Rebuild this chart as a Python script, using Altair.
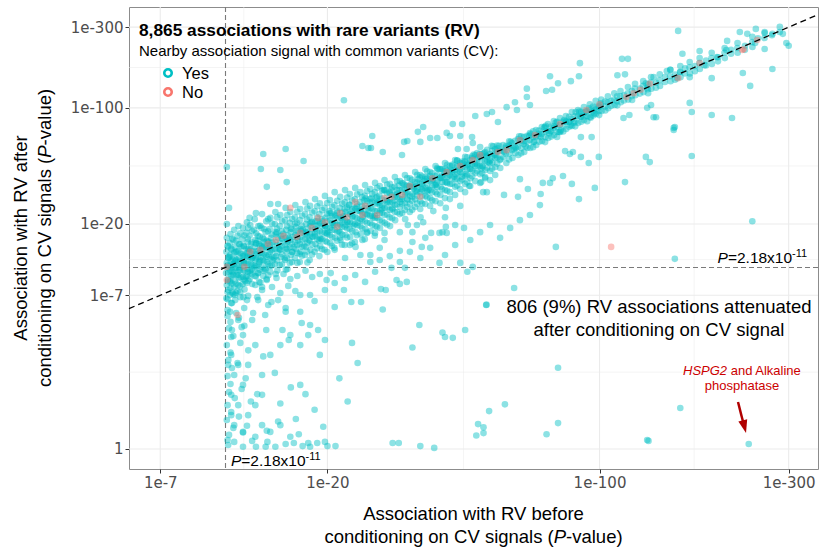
import altair as alt
import pandas as pd

# ---------------- data: -log10(P) before (x) and after (y) conditioning ----------------
band_yes = [
(10.75,16.4),(10.8,14.6),(10.72,13.4),(10.85,12.25),(10.75,11.4),(10.8,10.6),(10.7,9.8),(10.85,8.97),(10.75,8.2),(10.8,7.37),(10.72,6.69),
(11.0,17.3),(10.95,15.2),(11.05,14.0),(10.97,12.8),(11.02,11.7),(10.92,10.9),(11.0,10.15),(11.05,9.39),(10.95,8.59),(11.0,7.83),(10.97,7.03),(11.05,6.2),
(11.26,18.4),(11.2,15.9),(11.3,14.4),(11.25,13.2),(11.32,12.1),(11.2,11.2),(11.28,10.45),(11.22,9.53),(11.3,8.7),(11.26,7.95),(11.2,7.14),
(11.56,19.4),(11.5,16.9),(11.6,15.0),(11.55,13.6),(11.62,12.4),(11.5,11.55),(11.58,10.75),(11.52,10.0),(11.6,9.11),(11.55,8.2),(11.5,7.48),
(11.9,18.9),(11.85,16.1),(11.95,14.6),(11.88,13.0),(11.92,11.9),(11.85,10.9),(11.95,10.15),(11.9,9.25),(11.87,8.33),(11.93,6.8),
(12.2,20.5),(12.15,17.6),(12.25,15.45),(12.18,14.0),(12.22,12.6),(12.15,11.4),(12.25,10.45),(12.2,9.39),(12.17,8.45),
(12.45,19.7),(12.4,16.9),(12.5,15.0),(12.45,13.8),(12.42,12.4),(12.5,11.2),(12.45,10.15),(12.4,8.97),
(12.8,21.4),(12.75,18.4),(12.85,15.9),(12.8,14.4),(12.78,13.0),(12.85,11.9),(12.75,10.6),(12.82,9.39),
(13.1,19.4),(13.05,16.9),(13.15,15.0),(13.1,13.6),(13.08,12.4),(13.12,11.2),(13.05,9.8),(13.15,8.59),
(13.4,23.0),(13.35,18.9),(13.45,16.4),(13.4,14.6),(13.38,13.2),(13.45,11.9),(13.35,10.75),
(13.75,20.8),(13.7,17.8),(13.8,15.7),(13.75,14.2),(13.72,12.8),(13.8,11.55),(13.7,10.3),(13.78,8.97),
(14.1,21.8),(14.05,18.6),(14.15,16.4),(14.1,14.8),(14.08,13.4),(14.12,12.1),(14.05,10.9),
(14.55,23.7),(14.5,20.0),(14.6,17.3),(14.55,15.45),(14.52,14.0),(14.6,12.6),(14.5,11.2),(14.58,9.67),
(15.0,22.7),(14.95,19.4),(15.05,16.9),(15.0,15.2),(14.98,13.8),(15.05,12.4),(14.95,11.05),
(15.5,25.1),(15.45,21.1),(15.55,18.4),(15.5,16.4),(15.48,14.8),(15.55,13.4),(15.45,11.9),(15.52,10.3),
(15.95,23.7),(15.9,20.3),(16.0,17.8),(15.95,15.9),(15.92,14.4),(16.0,12.8),(15.9,11.4),
(16.45,26.1),(16.4,22.0),(16.5,19.2),(16.45,17.1),(16.42,15.45),(16.5,14.0),(16.4,12.25),
(16.95,24.7),(16.9,21.1),(17.0,18.6),(16.95,16.6),(16.92,15.0),(17.0,13.4),(16.9,11.55),
(17.5,27.2),(17.45,23.0),(17.55,20.0),(17.5,17.8),(17.48,16.1),(17.55,14.4),(17.45,12.8),
(18.0,25.8),(17.95,22.0),(18.05,19.4),(18.0,17.3),(17.98,15.7),(18.05,13.8),(17.95,11.9),
(18.55,28.4),(18.5,24.0),(18.6,20.8),(18.55,18.6),(18.52,16.9),(18.6,15.0),(18.5,13.4),
(19.1,26.8),(19.05,23.0),(19.15,20.3),(19.1,18.1),(19.08,16.4),(19.15,14.6),(19.05,12.6),
(19.7,29.7),(19.65,25.1),(19.75,21.8),(19.7,19.4),(19.68,17.6),(19.75,15.7),(19.65,13.8),
(20.3,28.0),(20.25,24.0),(20.35,21.1),(20.3,18.9),(20.28,17.1),(20.35,15.2),
(20.9,31.3),(20.85,26.1),(20.95,22.7),(20.9,20.3),(20.88,18.4),(20.95,16.4),(20.85,14.2),
(21.6,29.3),(21.55,25.1),(21.65,22.0),(21.6,19.7),(21.58,17.8),(21.65,15.9),
(22.25,32.2),(22.2,27.2),(22.3,23.7),(22.25,21.1),(22.22,19.2),(22.3,17.1),(22.2,14.8),
(22.9,30.5),(22.85,26.1),(22.95,23.0),(22.9,20.5),(22.88,18.6),(22.95,16.6),
(23.65,33.2),(23.6,28.4),(23.7,24.7),(23.65,22.0),(23.62,20.0),(23.7,17.8),(23.6,15.45),
(24.4,31.3),(24.35,27.2),(24.45,24.0),(24.4,21.4),(24.38,19.4),(24.45,17.3),
(25.1,34.6),(25.05,29.7),(25.15,25.8),(25.1,23.0),(25.08,20.8),(25.15,18.6),(25.05,16.1),
(25.9,32.7),(25.85,28.4),(25.95,25.1),(25.9,22.4),(25.88,20.3),(25.95,18.1),
(26.65,35.6),(26.6,31.3),(26.7,26.8),(26.65,24.0),(26.62,21.8),(26.7,19.4),(26.6,16.9),
(27.4,34.1),(27.35,29.7),(27.45,26.1),(27.4,23.3),(27.38,21.1),(27.45,18.9),
(28.2,37.0),(28.15,32.2),(28.25,28.0),(28.2,25.1),(28.18,22.7),(28.25,20.3),
(29.1,35.1),(29.05,31.3),(29.15,27.2),(29.1,24.4),(29.08,22.0),(29.15,19.4),
(30.0,38.6),(29.95,33.7),(30.05,29.3),(30.0,26.1),(29.98,23.7),(30.05,21.1),
(30.9,36.5),(30.85,32.2),(30.95,28.4),(30.9,25.4),(30.88,23.0),
(31.85,39.7),(31.8,34.6),(31.9,30.5),(31.85,26.8),(31.82,24.4),(31.9,21.4),
(32.8,38.0),(32.75,33.7),(32.85,29.7),(32.8,26.5),(32.78,23.7),
(33.85,41.4),(33.8,36.0),(33.9,31.8),(33.85,28.4),(33.82,25.4),
(34.9,39.7),(34.85,35.1),(34.95,31.3),(34.9,27.6),(34.88,24.7),(34.95,22.0),
(35.95,43.2),(35.9,37.5),(36.0,33.2),(35.95,29.7),(35.92,26.5),
(37.0,41.4),(36.95,36.5),(37.05,32.2),(37.0,28.8),(36.98,25.8),
(38.2,45.0),(38.15,39.2),(38.25,34.6),(38.2,31.3),(38.18,27.6),
(39.3,43.2),(39.25,38.0),(39.35,33.7),(39.3,30.1),(39.28,26.8),
(40.4,46.9),(40.35,40.8),(40.45,36.0),(40.4,32.2),(40.38,28.8),
(41.6,45.0),(41.55,39.7),(41.65,35.1),(41.6,31.3),(41.58,28.4),
(42.9,48.9),(42.85,42.6),(42.95,37.5),(42.9,33.7),(42.88,30.1),
(44.2,46.9),(44.15,41.4),(44.25,36.5),(44.2,32.7),
(45.5,51.0),(45.45,44.4),(45.55,39.2),(45.5,35.1),(45.48,31.3),
(46.9,48.9),(46.85,43.2),(46.95,38.0),(46.9,34.1),
(48.3,52.4),(48.25,46.2),(48.35,40.8),(48.3,36.5),
(49.7,51.0),(49.65,45.0),(49.75,40.2),(49.7,35.6),
(51.2,54.6),(51.15,48.2),(51.25,42.6),(51.2,38.0),
(52.7,53.1),(52.65,46.9),(52.75,42.0),(52.7,37.0),
(54.3,56.9),(54.25,50.3),(54.35,44.4),(54.3,39.7),
(55.9,55.3),(55.85,48.9),(55.95,43.8),
(57.9,59.3),(57.8,53.1),(58.0,46.9),
(60.0,61.8),(59.9,56.1),(60.1,50.3),
(62.1,65.3),(62.0,58.5),(62.2,52.4),
(64.3,67.1),(64.2,60.9),(64.4,54.6),
(66.6,70.9),(66.5,64.4),(66.7,57.7),
(69.0,73.9),(68.9,67.1),(69.1,60.1),
(71.4,77.0),(71.3,70.0),(71.5,63.5),
(74.0,80.2),(73.9,72.9),(74.1,66.2),
(76.6,83.5),(76.5,75.9),(76.7,69.0),
(79.4,87.1),(79.3,79.1),(79.5,71.9),
(82.2,89.5),(82.1,82.4),(82.3,74.9),
(85.1,94.5),(85.0,86.0),(85.2,78.0),
(88.2,97.1),(88.1,89.5),(88.3,81.3),
(91.3,101),(91.2,93.0),(91.4,84.7),
(94.5,105),(94.4,97.1),(94.6,88.3),
(97.8,110),(97.7,101),(97.9,91.9),
(101,112),(100.8,104),(101.2,95.8),
(105,117),(104.8,108),(105.2,99.6),
(109,122),(108.8,112),(109.2,104),
(113,126),(112.8,117),(113.2,108),
(118,133),(117.8,122),(118.2,112),
(123,139),(122.8,130),(123.2,119),
(129,144),(128.8,135),(129.2,124),
(135,152),(134.8,141),(135.2,130),
(142,158),(141.8,146),(142.2,135),
(151,168),(150.8,154),(151.2,144),
(160,177),(159.8,163),(160.2,152),
(169,187),(168.8,174),(169.2,160),
(179,197),(178.8,184),(179.2,170),
(192,212),(191.8,197),(192.2,182),
(207,226),(206.8,212),(207.2,197),
(223,242),(222.8,226),(223.2,212),
(243,263),(242.8,245),(243.2,229),
(261,277),(260.8,259),
(285,301),(284.8,281),
]

band_yes2 = [
(10.84,14.5),(10.9,12.4),(10.8,11.0),(10.88,9.92),(10.82,8.8),(10.86,7.56),(10.8,6.58),
(11.12,16.2),(11.08,13.85),(11.15,11.97),(11.1,10.64),(11.14,9.58),(11.1,8.37),(11.12,7.3),
(11.4,15.7),(11.36,13.38),(11.42,11.91),(11.38,10.59),(11.44,9.54),(11.4,8.34),(11.38,7.27),
(11.69,17.5),(11.66,14.96),(11.72,13.14),(11.7,11.69),(11.66,10.55),(11.72,9.22),(11.68,8.05),(11.7,6.79),
(11.99,16.97),(11.96,14.48),(12.02,12.72),(11.98,11.47),(12.0,10.2),(11.97,8.91),(12.01,7.66),
(12.29,18.9),(12.26,16.2),(12.31,14.0),(12.28,12.47),(12.3,11.25),(12.27,10.0),(12.31,8.74),
(12.6,18.1),(12.57,15.4),(12.62,13.55),(12.59,12.23),(12.61,11.04),(12.58,9.66),(12.6,8.32),
(12.92,17.5),(12.9,15.15),(12.94,13.49),(12.91,12.18),(12.93,10.83),(12.9,9.34),
(13.24,19.5),(13.21,16.69),(13.26,14.65),(13.23,13.24),(13.25,11.77),(13.22,10.32),(13.26,8.5),
(13.57,18.63),(13.55,16.13),(13.6,14.39),(13.56,12.99),(13.58,11.72),(13.55,10.12),
(13.92,21.4),(13.9,18.04),(13.95,15.62),(13.91,14.12),(13.94,12.76),(13.9,11.17),(13.93,9.49),
(14.26,20.1),(14.23,17.19),(14.28,15.33),(14.25,13.85),(14.27,12.51),(14.24,10.96),
(14.71,21.94),(14.68,18.76),(14.74,16.5),(14.7,14.71),(14.72,13.3),(14.69,11.82),(14.73,10.2),
(15.17,20.78),(15.14,18.02),(15.2,16.08),(15.16,14.52),(15.18,12.94),(15.15,11.18),
(15.65,22.68),(15.62,19.4),(15.68,17.05),(15.64,15.43),(15.66,13.94),(15.63,12.24),(15.67,10.41),
(16.13,21.46),(16.1,18.61),(16.16,16.59),(16.12,15.02),(16.14,13.37),(16.11,11.56),
(16.64,23.75),(16.61,20.31),(16.67,18.12),(16.63,16.41),(16.65,14.82),(16.62,13.2),(16.66,11.4),
(17.15,22.47),(17.12,19.49),(17.18,17.64),(17.14,15.97),(17.16,14.43),(17.13,12.67),
(17.69,24.85),(17.66,21.28),(17.72,18.74),(17.68,16.94),(17.7,15.32),(17.67,13.45),(17.71,11.47),
(18.23,23.54),(18.2,20.42),(18.26,18.49),(18.22,16.73),(18.24,14.92),(18.21,12.9),
(18.8,25.67),(18.77,21.97),(18.83,19.61),(18.79,17.75),(18.81,16.07),(18.78,14.11),
(19.37,24.3),(19.34,21.39),(19.4,19.37),(19.36,17.78),(19.38,16.09),(19.35,13.93),
(19.97,26.87),(19.94,23.01),(20.0,20.83),(19.96,18.86),(19.98,17.31),(19.95,15.44),(19.99,13.36),
(20.58,25.44),(20.55,22.39),(20.61,20.3),(20.57,18.36),(20.59,16.61),(20.56,14.6),
(21.22,27.73),(21.19,24.09),(21.25,21.82),(21.21,19.78),(21.23,17.89),(21.2,15.73),
(21.87,26.63),(21.84,23.47),(21.9,21.25),(21.86,19.24),(21.88,17.18),(21.85,14.87),
(22.53,29.02),(22.5,25.21),(22.56,22.85),(22.52,20.69),(22.54,18.74),(22.51,16.48),
(23.23,27.88),(23.2,24.59),(23.26,22.26),(23.22,20.15),(23.24,18.0),(23.21,15.16),
(23.93,30.36),(23.9,26.4),(23.96,23.93),(23.92,21.69),(23.94,19.64),(23.91,17.02),
(24.66,29.18),(24.63,25.71),(24.69,23.3),(24.65,21.12),(24.67,18.83),
(25.41,31.8),(25.38,27.63),(25.44,25.07),(25.4,22.69),(25.42,20.26),(25.39,17.57),
(26.19,30.54),(26.16,27.3),(26.22,24.75),(26.18,22.44),(26.2,19.75),
(26.98,33.28),(26.95,29.33),(27.01,26.62),(26.97,24.1),(26.99,21.83),(26.96,19.23),
(27.8,31.98),(27.77,28.58),(27.83,25.93),(27.79,23.48),(27.81,20.69),
(28.64,34.8),(28.61,30.71),(28.67,27.84),(28.63,25.23),(28.65,22.86),(28.62,19.84),
(29.51,33.45),(29.48,29.92),(29.54,27.13),(29.5,24.6),(29.52,21.67),
(30.41,36.44),(30.38,32.17),(30.44,29.15),(30.4,26.42),(30.42,23.63),
(31.33,35.5),(31.3,32.2),(31.36,29.23),(31.32,26.48),(31.34,23.34),
(32.27,38.13),(32.24,34.13),(32.3,30.94),(32.26,28.44),(32.28,25.45),
(33.25,37.15),(33.22,33.72),(33.28,30.58),(33.24,27.74),(33.26,24.45),
(34.25,39.89),(34.22,35.7),(34.28,32.38),(34.24,29.77),(34.26,26.64),
(35.28,38.87),(35.25,35.28),(35.31,32.45),(35.27,29.84),(35.29,26.68),
(36.35,41.77),(36.32,37.88),(36.38,34.86),(36.34,32.05),(36.36,29.07),
(37.44,40.67),(37.41,36.94),(37.47,33.98),(37.43,31.25),(37.45,27.95),
(38.56,43.66),(38.53,39.63),(38.59,36.46),(38.55,33.54),(38.57,30.45),
(39.72,43.14),(39.69,39.19),(39.75,36.06),(39.71,32.72),
(40.91,45.69),(40.88,42.04),(40.94,38.69),(40.9,35.59),(40.92,31.86),
(42.14,45.16),(42.11,41.58),(42.17,38.26),(42.13,35.19),
(43.4,48.46),(43.37,44.6),(43.43,41.05),(43.39,37.76),(43.41,34.3),
(44.7,47.9),(44.67,44.11),(44.73,40.59),(44.69,37.34),
(46.04,50.7),(46.01,46.68),(46.07,42.98),(46.03,39.55),(46.05,35.88),
(47.42,50.13),(47.39,46.11),(47.45,42.43),(47.41,39.09),
(48.83,53.76),(48.8,49.51),(48.86,45.59),(48.82,41.95),
(50.29,53.16),(50.26,48.91),(50.32,45.01),(50.28,40.85),
(51.79,56.22),(51.76,51.79),(51.82,47.67),(51.78,43.87),
(53.34,55.57),(53.31,51.17),(53.37,47.09),(53.33,43.34),
(54.93,59.63),(54.9,54.93),(54.96,50.57),(54.92,46.54),
(56.9,60.14),(56.85,55.34),(56.95,50.94),
(58.95,63.15),(58.9,58.17),(59.0,53.55),(58.93,49.3),
(61.05,63.59),(61.0,58.57),(61.1,53.91),
(63.24,67.74),(63.2,62.4),(63.28,57.46),(63.22,53.6),
(65.5,68.23),(65.45,62.84),(65.55,57.85),
(67.84,72.66),(67.8,66.95),(67.88,62.47),(67.82,58.34),
(70.27,73.19),(70.22,68.35),(70.32,62.93),
(72.78,76.91),(72.73,71.82),(72.83,67.03),(72.76,62.6),
(75.38,77.44),(75.33,72.32),(75.43,67.51),
(78.07,82.5),(78.02,77.04),(78.12,71.9),(78.05,67.16),
(80.85,83.06),(80.8,77.58),(80.9,72.42),
(83.72,88.46),(83.67,82.62),(83.77,77.11),
(86.7,89.07),(86.65,83.19),(86.75,77.67),
(89.8,94.88),(89.75,88.62),(89.85,82.72),
(93.0,95.54),(92.95,89.24),(93.05,83.32),
(96.3,101.7),(96.25,95.04),(96.35,89.98),
(99.7,102.4),(99.6,95.67),(99.8,90.64),
(103.3,109.1),(103.2,101.9),(103.4,96.52),
(107.0,109.9),(106.9,102.7),
(110.8,117.1),(110.7,109.3),(110.9,103.5),
(115.4,118.5),(115.3,110.7),
(120.8,125.8),(120.7,117.5),(120.9,111.3),
(126.6,130.0),(126.5,121.5),
(132.6,138.1),(132.5,129.0),(132.7,122.2),
(139.0,140.9),(138.9,131.6),
(146.4,152.4),(146.3,142.4),
(155.2,157.3),(155.1,146.9),
(164.5,171.3),(164.4,160.0),
(174.3,176.7),(174.2,165.0),
(185.8,190.8),(185.7,178.3),
(199.2,199.2),(199.1,188.6),
(214.8,220.6),(214.7,209.0),
(232.9,232.9),(232.8,220.5),
(251.1,257.9),
(272.3,268.7),
]

band_core = [
(10.91,12.45),(11.01,8.67),(11.12,10.03),(11.23,11.23),(11.33,11.66),(11.44,13.43),(11.55,9.53),(11.66,10.2),
(11.77,14.43),(11.88,12.6),(11.99,11.3),(12.1,9.27),(12.22,13.15),(12.33,13.65),(12.45,9.83),(12.57,12.2),
(12.68,12.68),(12.8,10.9),(12.92,15.15),(13.04,15.74),(13.16,11.53),(13.28,12.35),(13.41,14.22),(13.54,15.42),
(13.66,10.49),(13.79,12.46),(13.92,15.4),(14.05,14.46),(14.18,13.77),(14.31,11.85),(14.44,12.31),(14.57,17.81),
(14.71,17.73),(14.85,14.01),(14.99,13.95),(15.13,16.26),(15.27,17.37),(15.41,12.21),(15.55,14.06),(15.69,15.69),
(15.84,16.29),(15.99,18.71),(16.13,13.37),(16.28,14.29),(16.43,20.06),(16.58,17.56),(16.74,15.8),(16.89,13.03),
(17.05,18.06),(17.21,18.48),(17.36,14.61),(17.52,17.28),(17.69,17.69),(17.85,15.91),(18.01,20.18),(18.18,20.65),
(18.34,16.6),(18.51,17.48),(18.68,19.49),(18.85,20.82),(19.03,15.81),(19.2,16.17),(19.37,20.8),(19.55,19.83),
(19.73,19.46),(19.91,17.51),(20.09,17.92),(20.27,23.35),(20.46,23.23),(20.65,19.78),(20.83,19.67),(21.02,22.25),
(21.22,23.42),(21.41,18.05),(21.6,20.13),(21.8,21.8),(22.0,22.31),(22.2,24.84),(22.4,19.71),(22.6,20.48),
(22.81,26.26),(23.02,24.0),(23.23,22.26),(23.44,19.51),(23.65,25.03),(23.86,25.6),(24.08,20.32),(24.3,23.97),
(24.52,24.52),(24.74,22.09),(24.96,27.92),(25.19,28.57),(25.41,23.03),(25.64,24.23),(25.88,26.98),(26.11,28.79),
(26.35,21.95),(26.59,22.45),(26.82,28.77),(27.06,27.44),(27.31,26.94),(27.56,24.28),(27.8,24.83),(28.05,32.26),
(28.31,32.09),(28.56,27.38),(28.82,27.24),(29.08,30.76),(29.34,32.34),(29.6,25.01),(29.87,27.86),(30.14,30.14),
(30.41,30.84),(30.68,34.29),(30.96,27.28),(31.24,28.34),(31.52,35.23),(31.8,32.69),(32.08,31.19),(32.37,28.13),
(32.66,34.04),(32.95,34.85),(33.25,29.31),(33.55,33.1),(33.85,33.85),(34.15,31.41),(34.45,37.43),(34.76,38.3),
(35.07,32.73),(35.38,33.92),(35.7,36.69),(36.02,38.61),(36.35,31.61),(36.67,32.34),(37.0,39.13),(37.33,37.85),
(37.66,37.16),(38.0,34.49),(38.34,35.27),(38.68,43.2),(39.03,42.99),(39.38,38.29),(39.72,38.09),(40.07,41.75),
(40.43,43.33),(40.79,35.98),(41.16,38.93),(41.53,41.53),(41.89,42.47),(42.26,45.89),(42.64,38.71),(43.02,40.16),
(43.4,48.46),(43.79,45.0),(44.18,42.96),(44.57,38.78),(44.97,46.85),(45.37,47.97),(45.77,40.39),(46.18,45.57),
(46.59,46.59),(47.0,43.26),(47.42,51.49),(47.84,52.68),(48.27,45.07),(48.7,46.71),(49.13,50.48),(49.57,53.11),
(50.0,43.52),(50.44,44.52),(50.89,53.8),(51.34,52.05),(51.8,51.11),(52.26,47.47),(52.72,48.53),(53.19,59.37),
(53.66,59.07),(54.14,52.65),(54.61,52.39),(55.09,57.39),(55.58,59.54),(56.07,49.51),(57.23,54.9),(57.74,57.74),
(58.95,59.77),(59.47,62.86),(60.7,56.69),(61.24,57.94),(62.51,67.85),(63.06,63.93),(64.37,63.52),(64.94,59.01),
(66.29,68.11),(66.88,69.66),(68.26,62.86),(68.86,67.95),(70.29,70.29),(70.91,67.1),(72.38,76.49),(73.02,78.2),
(74.53,70.53),(75.19,73.13),(76.74,77.8),(77.42,81.81),(79.02,71.82),(79.72,73.42),(81.37,84.75),(82.09,83.22),
(83.78,82.68),(84.52,78.96),(86.27,81.65),(87.03,94.42),(88.82,95.11),(89.6,88.42),(91.45,88.95),(92.25,94.77),
(94.16,99.5),(94.99,87.5),(96.95,93.03),(97.8,97.8),(99.8,101.2),(100.7,106.4),
]

fan_yes = [
(12.6,10.3),(13.08,9.8),(13.5,9.39),(14.1,10.0),(14.65,9.11),(15.3,9.67),(15.95,8.97),(16.65,9.39),(17.5,10.15),(18.23,9.25),(19.1,9.67),
(12.06,8.7),(12.85,8.2),(13.4,7.59),(14.25,7.95),(15.0,7.25),(15.75,8.08),(16.45,7.48),(12.29,6.93),(13.08,6.5),(13.92,6.02),(14.8,6.5),
(11.69,7.37),(11.33,6.5),(11.99,5.74),(12.68,5.3),(10.97,5.4),(11.55,4.73),(13.66,5.13),(15.5,5.74),(16.95,5.4),(18.0,7.03),(19.7,7.59),
(20.9,8.45),(22.25,9.11),(23.65,9.53),(25.1,8.59),(26.65,10.0),
(20.9,13.8),(22.25,12.25),(22.9,14.8),(24.4,12.8),(25.9,11.55),(27.4,14.2),(29.1,12.6),(30.9,11.55),(32.8,13.4),(34.9,12.25),(37.0,14.2),
(40.4,12.8),(42.9,14.8),(46.9,15.9),(49.7,17.8),(52.7,19.7),(55.9,16.4),(59.3,18.9),(62.8,21.1),(66.6,22.7),(70.6,26.1),(35.95,16.4),
(28.2,15.9),(21.6,16.4),
]

low_left_yes = [
(11.05,2.57),(11.55,2.12),(11.26,1.72),(11.9,1.38),(11.05,1.08),(11.55,0.81),(12.29,0.58),(11.26,0.38),(11.9,0.26),(12.85,0.18),
(13.4,0.38),(14.1,0.26),(15.0,0.38),(15.95,0.18),(12.85,0.81),(13.4,1.08),(12.29,2.12),(14.1,2.57),(15.0,3.08),(15.95,3.67),
(16.95,3.08),(18.0,4.35),(19.1,2.57),(12.85,3.08),(11.9,3.67),(13.4,1.72),(16.95,1.38),(10.84,0.056),(11.05,0.58),(10.84,2.12),
]

scatter_yes = [
(158,285),(226,281),(236,274),(248,293),(261,281),(273,274),(290,274),(296,242),(300,233),
(261,223),(247,242),(230,161),(240,135),(273,170),(210,249),(209,220),(198,200),(179,217),(184,179),(192,150),(192,90.7),(216,87),(243,20.8),
(162,209),(169,152),(171,94.5),(169,107),(171,51.7),(155,77),(154,73.9),(148,165),(151,168),(137,152),(131,140),(132,132),(157,150),(160,163),
(114,195),(118,195),(111,156),(116,158),(89.2,184),(84.6,144),(88.7,154),(78.5,140),(74.9,154),(75.8,128),(73.2,126),(65.4,130),(65.4,116),(66.6,104),(61.0,108),(61.7,97.1),(58.1,101),
(131,51),(134,47.5),(116,36),(99.6,51),(97.3,33.2),(88.7,28.4),(85.1,35.1),(76.1,38.0),(74.9,35.6),(71.8,35.6),(70.9,30.5),(62.8,37.5),(65.8,32.7),(62.1,29.3),(57.2,30.1),(93.9,46.9),(89.7,51),(85.6,54.6),(81.8,55.3),(84.1,53.1),(80.8,39.2),(115,87),(119,90.7),(132,100),(135,104),(154,76),(139,88),(137,88),(89.7,67),(95.5,67),
(22.1,111),(13.5,53.1),(15.5,56.9),(17.3,48.2),(13.3,43.2),(15.0,42.6),(13.8,33.7),(15.6,36.0),(10.75,44.4),(10.9,25.1),(10.75,20.0),(14.8,26.5),(14.1,26.5),(12.9,23.3),(12.4,21.8),
(48.3,89.5),(51.7,92),(53.3,94.5),(55.2,82.4),(42.3,80.2),(44.7,80.2),(35.5,77),(34.4,72),(32.3,63.5),(31.7,62.7),(26.2,68),(24.7,59.3),(25.6,57.7),(26.0,57.7),(27.9,54.6),(31.3,52.4),(34.9,62.7),(37.0,66.2),(38.6,66.2),(40.8,71),(41.6,68),(44.2,68),(47.4,67),(47.6,61.8),(49.7,58.5),(45.9,56.9),(43.6,56.9),
(51.2,38.6),(50.0,36.0),(46.6,34.1),(51.7,31.3),(50.6,31.3),(44.2,25.8),(45.2,18.9),(42.9,19.7),(40.6,25.1),(40.4,22.0),(37.7,24.0),(39.8,17.8),(35.5,20.5),(32.4,19.7),(34.2,19.7),(33.3,15.45),(35.2,14.4),(30.9,13.6),(39.1,11.4),(44.2,11.4),(46.1,10.0),(40.6,19.2),
(25.4,17.8),(26.65,17.6),(28.2,17.6),(30.9,17.8),(33.3,17.8),(37.2,17.6),(39.1,17.6),(40.8,17.6),
(24.7,15.9),(23.7,14.4),(25.9,12.8),(27.4,11.9),(29.4,10.6),(31.85,10.6),
(32.2,8.59),(30.9,8.33),(30.3,8.84),(27.6,7.7),(28.4,7.59),
(20.4,9.8),(19.9,8.84),(22.1,7.59),(23.1,6.31),(24.5,6.31),(20.9,5.83),(18.5,6.4),(16.95,7.03),(15.5,5.4),(14.2,6.31),(15.2,4.0),(17.1,4.5),(18.9,4.0),(19.7,3.37),(17.8,3.67),(15.8,3.37),(13.75,4.0),(12.6,4.73),(11.8,4.2),(11.1,4.0),(11.05,3.55),(10.8,5.56),(11.1,6.2),(12.2,6.5),(11.4,5.3),(11.3,7.03),(13.4,7.95),(13.0,6.8),(13.8,8.84),
(27.9,5.6),(23.2,3.2),(33.3,2.95),(34.7,4.35),(39.8,3.83),(40.4,3.55),(42.3,3.5),(45.5,4.0),(51.5,6.02),(51.6,6.05),
(77.5,14.4),(155,12.1),(47.6,10.75),(60.7,7.83),
(78.5,2.0),(57.5,0.83),(52.4,0.67),(49.1,0.40),(50.7,0.34),(50.7,0.24),(48.6,0.20),(78.5,0.42),(73.4,0.22),(160,0.74),(132,0.13),(238,0.07),
(10.8,0.13),(11.26,0.1),(11.9,0.03),(12.9,0.03),(13.7,0.03),(14.55,0.03),(15.5,0.07),(16.3,0.085),(17.2,0.04),(17.8,0.085),(18.0,0.03),(18.8,0.085),(19.7,0.1),(20.0,0.04),(21.0,0.04),(13.85,0.1),(12.6,0.115),
(29.6,0.085),(30.7,0.085),(34.9,0.04),(37.9,0.015),(133,0.115),
(10.8,5.05),(11.0,4.58),(10.9,4.13),(11.2,3.61),(10.75,3.08),(11.0,2.68),(10.85,2.33),(11.1,1.99),(10.8,1.68),(11.0,1.41),(10.9,1.16),(11.3,0.99),(10.8,0.81),(11.05,0.65),(10.75,0.48),(11.2,0.33),(10.9,0.21),
(11.6,4.9),(12.0,4.3),(11.7,3.2),(12.3,2.8),(11.5,2.2),(12.1,1.6),(11.8,1.25),(12.5,0.9),(11.6,0.55),(12.2,0.37),(11.9,0.25),
(13.5,2.5),(14.5,1.8),(16.0,1.3),(13.0,1.1),(15.0,0.85),(16.5,0.5),(17.5,1.1),(18.5,0.7),(19.5,0.35),(21.5,1.6),(22.6,0.9),(24.0,2.2),(13.8,0.28),(14.8,0.45),(16.8,0.22),
]

no_points = [
(229,220),(231,222),(158,150),(127,128),(122,122),(117,116),(92.6,97),(68.6,69),(58.1,56),
(15.95,25.1),(107,14.4),
(10.75,8.84),(10.75,10.75),(11.5,5.13),(12.45,13.4),(14.6,15.9),(16.6,16.6),(16.95,17.6),(18.9,21.8),(21.2,19.2),(23.65,27.2),(22.5,22.0),(24.7,22.7),(27.0,22.7),(29.4,29.3),(31.3,30.1),(34.9,29.3),(40.8,41.4),(47.6,48.9),(49.7,52.4),(55.2,54.6),(12.0,10.75),
(13.26,13.8),(13.9,15.0),(15.3,16.9),(18.2,18.9),(19.7,20.5),(21.6,23.3),(25.1,25.8),(28.2,28.8),(32.8,34.1),(37.5,38.0),(44.2,45.0),(62.8,64.4),(79.4,80.2),(100,105),(134,139),(179,184),(250,252),
]

cv_levels = ["Yes", "No"]
cv_colors = ["#00BFC4", "#F8766D"]

THRESH = 10.66                      # -log10(2.18e-11)
X_DOMAIN = [5.68, 355.5]
Y_DOMAIN = [-0.311, 394.4]
x_ticks = [7, 20, 100, 300]
y_ticks = [0, 7, 20, 100, 300]
x_minor = [11.96, 45.05, 173.4]
y_minor = [1.829, 11.96, 45.05, 173.4]

# ---------------- layout ----------------
W, H = 689, 462
L, T = 129, 7
FONT = "Liberation Sans"

pts = pd.DataFrame(
    [(x, y, "Yes") for x, y in band_yes + band_yes2 + band_core + fan_yes + low_left_yes + scatter_yes]
    + [(x, y, "No") for x, y in no_points],
    columns=["x", "y", "cv"],
)

xs = alt.Scale(type="symlog", constant=1, domain=X_DOMAIN, nice=False, zero=False)
ys = alt.Scale(type="symlog", constant=1, domain=Y_DOMAIN, nice=False, zero=False)

common_axis = dict(title=None, grid=False, domain=False, tickColor="#333333", tickSize=4,
                   tickWidth=1, labelFont="DejaVu Sans", labelFontSize=15, labelColor="#4D4D4D",
                   labelOverlap=False, labelFlush=False, labelPadding=2)
x_axis = alt.Axis(values=x_ticks, labelExpr="'1e-' + datum.value", **common_axis)
y_axis = alt.Axis(values=y_ticks, labelExpr="datum.value == 0 ? '1' : '1e-' + datum.value", **common_axis)


def X(field):
    return alt.X(field, type="quantitative", scale=xs, axis=x_axis)


def Y(field):
    return alt.Y(field, type="quantitative", scale=ys, axis=y_axis)


one = pd.DataFrame({"a": [0]})


def vrules(vals, width, color="#EBEBEB", dash=None):
    m = dict(color=color, strokeWidth=width)
    if dash:
        m["strokeDash"] = dash
    return alt.Chart(pd.DataFrame({"v": vals})).mark_rule(**m).encode(x=X("v"))


def hrules(vals, width, color="#EBEBEB", dash=None):
    m = dict(color=color, strokeWidth=width)
    if dash:
        m["strokeDash"] = dash
    return alt.Chart(pd.DataFrame({"v": vals})).mark_rule(**m).encode(y=Y("v"))


def txt(s, px, py, size, align="left", baseline="alphabetic", color="black", **kw):
    return alt.Chart(one).mark_text(text=s, fontSize=size, font=FONT, align=align,
                                    baseline=baseline, color=color, **kw).encode(
        x=alt.value(px - L), y=alt.value(py - T))


layers = []
# grid
layers += [vrules(x_minor, 0.55), hrules(y_minor, 0.55), vrules(x_ticks, 1.1), hrules(y_ticks, 1.1)]
# threshold lines
layers += [vrules([THRESH], 1.1, color="#7a7a7a", dash=[5, 3]), hrules([THRESH], 1.1, color="#7a7a7a", dash=[5, 3])]

# points
points = alt.Chart(pts).mark_circle(size=44, opacity=0.45).encode(
    x=X("x"), y=Y("y"),
    color=alt.Color("cv:N", scale=alt.Scale(domain=cv_levels, range=cv_colors), legend=None),
)
layers.append(points)

# identity line
diag = alt.Chart(pd.DataFrame({"d": X_DOMAIN})).mark_line(
    color="black", strokeWidth=1.3, strokeDash=[6, 4]).encode(x=X("d"), y=Y("d"))
layers.append(diag)

# legend (manual)
layers.append(txt("8,865 associations with rare variants (RV)", 139, 36, 17.3, fontWeight="bold"))
layers.append(txt("Nearby association signal with common variants (CV):", 139, 55.5, 15))
for lvl, col, cy in zip(cv_levels, cv_colors, [73, 92]):
    layers.append(alt.Chart(one).mark_point(shape="circle", filled=False, size=55, strokeWidth=2.6,
                                            color=col, opacity=1).encode(
        x=alt.value(168 - L), y=alt.value(cy - T)))
    layers.append(txt(lvl, 182, cy + 6, 16.5))

# P threshold labels
for px, py in [(231, 466), (717.6, 263)]:
    layers.append(txt("P", px, py, 15.5, fontStyle="italic"))
    layers.append(txt("=2.18x10", px + 10.3, py, 15.5))
    layers.append(txt("-11", px + 74.5, py - 6, 11))

# attenuated annotation
layers.append(txt("806 (9%) RV associations attenuated", 659, 313, 18.5, align="center"))
layers.append(txt("after conditioning on CV signal", 659, 336, 18.5, align="center"))

# HSPG2 annotation
RED = "#CC0000"
layers.append(txt("HSPG2", 683, 375, 13, color=RED, fontStyle="italic"))
layers.append(txt("and Alkaline", 730.7, 375, 13, color=RED))
layers.append(txt("phosphatase", 742, 390, 13, align="center", color=RED))
layers.append(alt.Chart(one).mark_rule(color="#B00000", strokeWidth=2.5).encode(
    x=alt.value(738 - L), y=alt.value(402 - T), x2=alt.value(743.6 - L), y2=alt.value(424 - T)))
layers.append(alt.Chart(one).mark_point(shape="M-0.7,-1L0.7,-1L0,1Z", filled=True, size=169,
                                        angle=345.5, color="#B00000", opacity=1).encode(
    x=alt.value(744.4 - L), y=alt.value(426.7 - T)))

# axis titles (text so the P can be italic)
layers.append(txt("Association with RV before", 473.5, 520, 18.5, align="center"))
layers.append(txt("conditioning on CV signals (", 324.45, 543, 18.5))
layers.append(txt("P", 553.75, 543, 18.5, fontStyle="italic"))
layers.append(txt("-value)", 566.05, 543, 18.5))

layers.append(txt("Association with RV after", 21, 238, 18.5, align="center", baseline="middle", angle=270))
layers.append(txt("conditioning on CV signals (", 44.5, 387.05, 18.5, baseline="middle", angle=270))
layers.append(txt("P", 44.5, 157.75, 18.5, baseline="middle", angle=270, fontStyle="italic"))
layers.append(txt("-value)", 44.5, 145.4, 18.5, baseline="middle", angle=270))

chart = alt.layer(*layers).properties(
    width=W, height=H,
    padding={"left": L, "top": T, "right": 820 - L - W, "bottom": 549 - T - H},
    autosize=alt.AutoSizeParams(type="none"),
    background="white",
).configure_view(stroke="#8C8C8C", strokeWidth=1)

chart.save("out.html", embed_options={"renderer": "svg", "actions": False})
